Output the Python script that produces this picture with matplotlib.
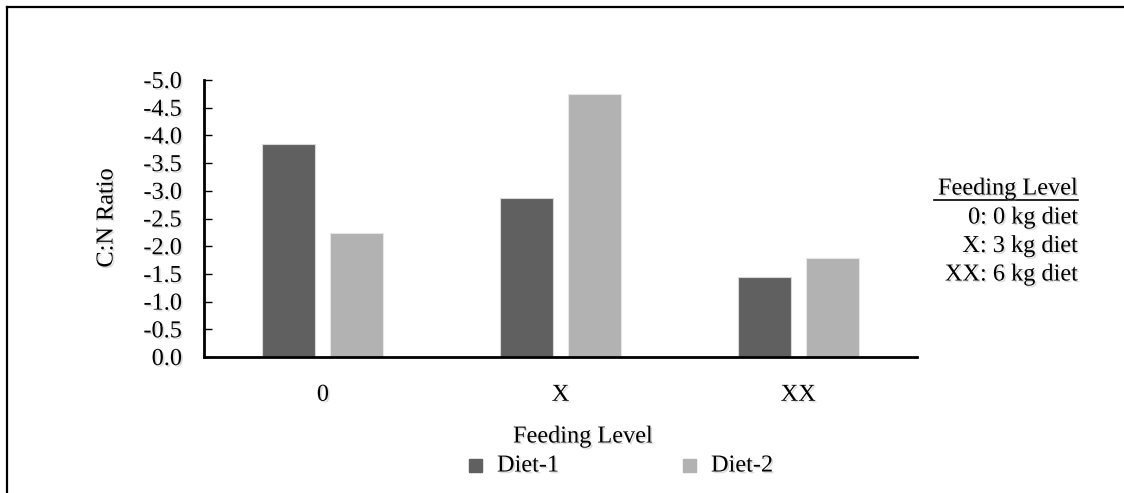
import numpy as np
import matplotlib
matplotlib.use("Agg")
import matplotlib.pyplot as plt
import matplotlib.patheffects as pe
from matplotlib.lines import Line2D
from matplotlib.patches import Rectangle

# values (plotted on an inverted axis)
levels = ["0", "X", "XX"]
diet1 = [-3.84, -2.87, -1.45]
diet2 = [-2.24, -4.75, -1.78]
series_names = ["Diet-1", "Diet-2"]
yticks = [0.0, -0.5, -1.0, -1.5, -2.0, -2.5, -3.0, -3.5, -4.0, -4.5, -5.0]
notes = ["0: 0 kg diet", "X: 3 kg diet", "XX: 6 kg diet"]

c1 = "#606060"
c2 = "#b2b2b2"
FS = 17.5
plt.rcParams["font.family"] = ["Liberation Serif", "DejaVu Serif"]
shadow = [pe.SimplePatchShadow(offset=(1.2, -1.2), shadow_rgbFace="#999999", alpha=0.35), pe.Normal()]

W, H = 1124, 493
fig = plt.figure(figsize=(W / 100, H / 100), dpi=100)
ax = fig.add_axes([204 / W, 1 - 357 / H, (917 - 204) / W, (357 - 80) / H])

x = np.arange(len(levels)) + 0.5
w = 0.223
off = 0.143
ax.bar(x - off, diet1, w, color=c1, edgecolor="#d9d9d9", linewidth=0.8, label=series_names[0])
ax.bar(x + off, diet2, w, color=c2, edgecolor="#e6e6e6", linewidth=0.8, label=series_names[1])

ax.set_xlim(0, len(levels))
ax.set_ylim(0, -5.0)
ax.set_yticks(yticks)
ax.set_yticklabels([f"{v:.1f}" if v != 0 else "0.0" for v in yticks])
ax.set_xticks(x)
ax.set_xticklabels(levels)
ax.tick_params(axis="y", direction="in", length=6, width=1, pad=16, labelsize=FS)
ax.tick_params(axis="x", length=0, pad=20, labelsize=FS)
for t in ax.get_xticklabels() + ax.get_yticklabels():
    t.set_path_effects(shadow)
for s in ["top", "right"]:
    ax.spines[s].set_visible(False)
for s in ["left", "bottom"]:
    ax.spines[s].set_linewidth(2)

fig.text(107 / W, 1 - 218 / H, "C:N Ratio", rotation=90, ha="center", va="center",
         fontsize=FS, path_effects=shadow)
fig.text(583 / W, 1 - 437 / H, "Feeding Level", ha="center", va="center",
         fontsize=FS, path_effects=shadow)

# legend drawn by hand to match the wide spacing
for sx, tx, col, name in [(469, 497, c1, series_names[0]), (683, 711, c2, series_names[1])]:
    fig.patches.append(Rectangle((sx / W, 1 - 472 / H), 13 / W, 13 / H, color=col,
                                 transform=fig.transFigure, figure=fig))
    fig.text(tx / W, 1 - 466 / H, name, ha="left", va="center", fontsize=FS, path_effects=shadow)

# side note
fig.text(1078 / W, 1 - 189 / H, "Feeding Level", ha="right", va="center", fontsize=FS,
         path_effects=shadow)
fig.add_artist(Line2D([934 / W, 1078 / W], [1 - 200 / H, 1 - 200 / H], color="black", lw=1.2))
for i, n in enumerate(notes):
    fig.text(1078 / W, 1 - (218 + 28.5 * i) / H, n, ha="right", va="center", fontsize=FS,
             path_effects=shadow)

# outer frame (only top and left visible)
fig.add_artist(Line2D([7 / W, 1], [1 - 7 / H, 1 - 7 / H], color="black", lw=1.6))
fig.add_artist(Line2D([7 / W, 7 / W], [0, 1 - 7 / H], color="black", lw=1.6))

fig.savefig("out.png", dpi=100)
